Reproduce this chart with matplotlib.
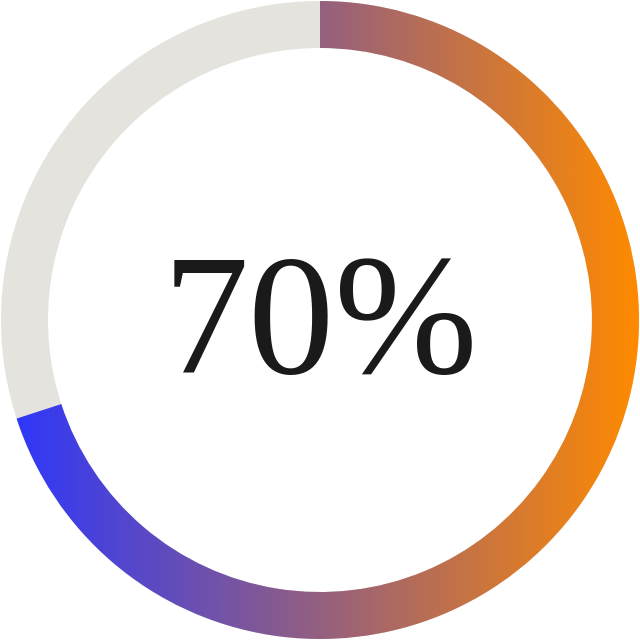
import numpy as np
import matplotlib
matplotlib.use("Agg")
import matplotlib.pyplot as plt
from matplotlib.patches import Wedge
from matplotlib.colors import LinearSegmentedColormap

# Data
progress_value = 70          # percent
label_text = "70%"
gradient_colors = ["#2a36ff", "#ff8a00"]
track_color = "#e4e3de"
text_color = "#1a1a1a"

fig = plt.figure(figsize=(6.4, 6.4), dpi=100)
ax = fig.add_axes([0, 0, 1, 1])
ax.set_xlim(0, 640)
ax.set_ylim(0, 640)
ax.set_aspect("equal")
ax.axis("off")

cx, cy = 320, 320
R, w = 319, 47

# Track
track = Wedge((cx, cy), R, 0, 360, width=w, facecolor=track_color,
              edgecolor="none", zorder=1)
ax.add_patch(track)

# Progress arc, clockwise from top
start = 90 - 360 * progress_value / 100
arc = Wedge((cx, cy), R, start, 90, width=w, facecolor="none",
            edgecolor="none", zorder=1)
ax.add_patch(arc)

cmap = LinearSegmentedColormap.from_list("g", gradient_colors)
grad = np.linspace(0, 1, 512).reshape(1, -1)
im = ax.imshow(grad, cmap=cmap, extent=(cx - R, cx + R, cy - R, cy + R),
               aspect="auto", origin="lower", interpolation="bilinear",
               zorder=2)
im.set_clip_path(arc)
ax.set_xlim(0, 640)
ax.set_ylim(0, 640)

ax.text(cx, cy - 12, label_text, ha="center", va="center", fontsize=124,
        family=["Liberation Serif", "DejaVu Serif"], color=text_color, zorder=3)

fig.savefig("out.png", dpi=100)
